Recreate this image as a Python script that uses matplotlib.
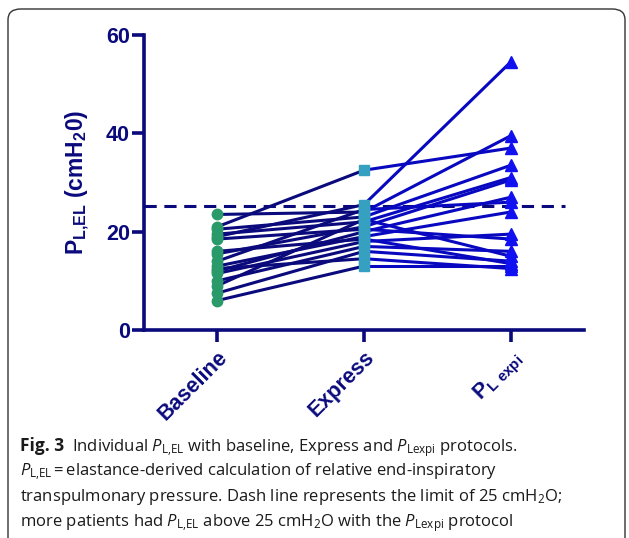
import matplotlib
matplotlib.use("Agg")
import matplotlib.pyplot as plt
from matplotlib.patches import FancyBboxPatch
import numpy as np

# === DATA ===
groups = ["Baseline", "Express", "P$_{\\mathbf{L\\ expi}}$"]
baseline = [21.0, 19.0, 23.5, 20.5, 19.5, 15.5, 12.0, 14.0, 13.0, 11.5, 18.5, 10.0, 9.0, 7.5, 16.0, 6.0, 12.5]
express = [32.5, 25.5, 24.0, 23.0, 22.0, 21.0, 20.0, 24.5, 19.0, 18.0, 20.5, 17.0, 22.5, 16.0, 18.5, 13.0, 14.5]
plexpi = [37.0, 54.5, 39.5, 33.5, 31.0, 30.5, 27.0, 26.0, 24.0, 19.5, 18.5, 16.0, 15.0, 14.0, 13.5, 13.0, 12.5]
limit = 25.3
yticks = [0, 20, 40, 60]

NAVY = "#0a0a7c"
BLUE = "#0808c0"

plt.rcParams['mathtext.fontset'] = 'custom'
plt.rcParams['mathtext.rm'] = 'Open Sans'
plt.rcParams['mathtext.it'] = 'Open Sans:italic'
plt.rcParams['mathtext.bf'] = 'Liberation Sans:bold'

fig = plt.figure(figsize=(6.29, 5.38), dpi=100)

# rounded frame around figure + caption
frame = FancyBboxPatch((8 / 629, -0.05), 617 / 629, 1 - 9 / 538 + 0.05,
                       boxstyle="round,pad=0,rounding_size=0.02",
                       transform=fig.transFigure, fill=False,
                       edgecolor="#333333", linewidth=1.0)
fig.patches.append(frame)

ax = fig.add_axes([144 / 629, 208 / 538, 440 / 629, 295 / 538])
x = np.arange(3)

for b, e, p in zip(baseline, express, plexpi):
    ax.plot(x[:2], [b, e], color=NAVY, lw=2.2, zorder=2)
    ax.plot(x[1:], [e, p], color=BLUE, lw=2.2, zorder=2)

ax.plot([x[0]] * len(baseline), baseline, 'o', color="#2a9a6a", ms=7.5, zorder=3, clip_on=False)
ax.plot([x[1]] * len(express), express, 's', color="#35a0c0", ms=7.5, zorder=3, clip_on=False)
ax.plot([x[2]] * len(plexpi), plexpi, '^', color="#1010f0", ms=8.5, zorder=3, clip_on=False)

ax.plot([-0.5, 2.37], [limit, limit], '--', color=NAVY, lw=2.2, dashes=(4, 2.5), zorder=1)

ax.set_xlim(-0.5, 2.5)
ax.set_ylim(0, 60)
ax.set_yticks(yticks)
ax.set_xticks(x)
ax.set_xticklabels(groups, rotation=45, ha='right', va='top', rotation_mode='anchor')

for s in ['top', 'right']:
    ax.spines[s].set_visible(False)
for s in ['left', 'bottom']:
    ax.spines[s].set_color(NAVY)
    ax.spines[s].set_linewidth(2.6)
ax.tick_params(colors=NAVY, width=2.6, length=8.5, pad=1.5, labelsize=15.5)
ax.tick_params(axis='x', pad=4)
for lab in ax.get_xticklabels() + ax.get_yticklabels():
    lab.set_fontfamily('Liberation Sans')
    lab.set_fontweight('bold')
    lab.set_color(NAVY)

ax.set_ylabel("P$_{\\mathbf{L{,}EL}}$ (cmH$_{\\mathbf{2}}$0)", fontsize=16.5,
              fontfamily='Liberation Sans', fontweight='bold', color=NAVY, labelpad=10)

# === caption ===
cap_kw = dict(fontsize=12, fontfamily='Open Sans', color='#1a1a1a', transform=fig.transFigure)
x0 = 20 / 629
t = fig.text(x0, 1 - 451 / 538, "Fig. 3", fontweight='bold', fontsize=12.5,
             fontfamily='Open Sans', color='#1a1a1a', transform=fig.transFigure)
fig.canvas.draw()
bb = t.get_window_extent()
fig.text(bb.x1 / fig.bbox.width + 8 / 629, 1 - 451 / 538,
         "Individual $P_{\\mathrm{L{,}EL}}$ with baseline, Express and $P_{\\mathrm{Lexpi}}$ protocols.", **cap_kw)
fig.text(x0, 1 - 476 / 538,
         "$P_{\\mathrm{L{,}EL}}$$\\,$=$\\,$elastance-derived calculation of relative end-inspiratory", **cap_kw)
fig.text(x0, 1 - 501 / 538,
         "transpulmonary pressure. Dash line represents the limit of 25 cmH$_{\\mathrm{2}}$O;", **cap_kw)
fig.text(x0, 1 - 526 / 538,
         "more patients had $P_{\\mathrm{L{,}EL}}$ above 25 cmH$_{\\mathrm{2}}$O with the $P_{\\mathrm{Lexpi}}$ protocol", **cap_kw)

fig.savefig("out.png", dpi=100)
